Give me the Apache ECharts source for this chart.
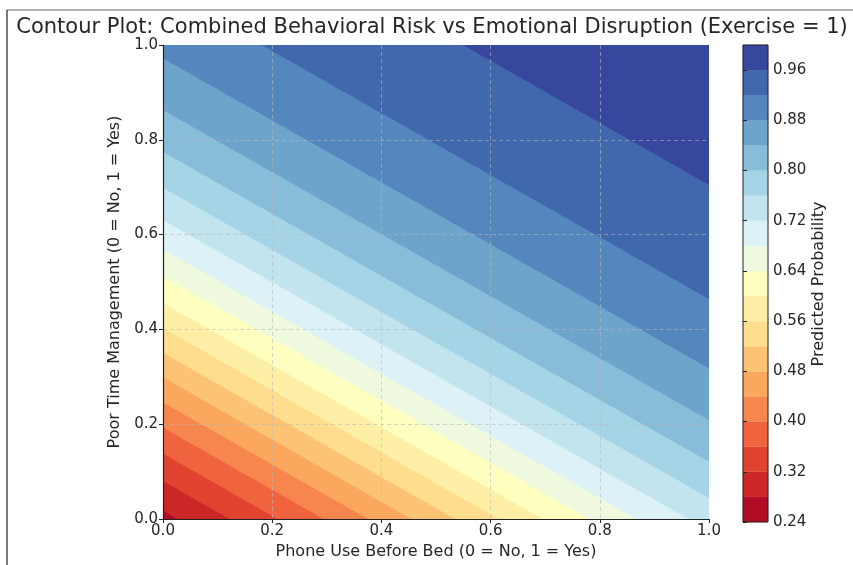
<!DOCTYPE html>
<html>
<head>
<meta charset="utf-8">
<script src="https://cdn.jsdelivr.net/npm/echarts@6/dist/echarts.min.js"></script>
<style>
  html, body { margin: 0; padding: 0; background: #ffffff; }
  #chart { width: 853px; height: 565px; }
</style>
</head>
<body>
<div id="chart"></div>
<script>
// ---------------- data ----------------
const titleText = 'Contour Plot: Combined Behavioral Risk vs Emotional Disruption (Exercise = 1)';
const xAxisTitle = 'Phone Use Before Bed (0 = No, 1 = Yes)';
const yAxisTitle = 'Poor Time Management (0 = No, 1 = Yes)';
const colorbarTitle = 'Predicted Probability';

// contour levels (band edges of the filled contour)
const contourLevels = [0.24, 0.28, 0.32, 0.36, 0.40, 0.44, 0.48, 0.52, 0.56, 0.60,
                       0.64, 0.68, 0.72, 0.76, 0.80, 0.84, 0.88, 0.92, 0.96, 1.00];
// each interior level boundary (0.28 ... 0.96) is a line across the square:
// start point (on the left or top edge) and end point (on the bottom or right edge)
const boundaryStartX = [0, 0, 0, 0, 0, 0, 0, 0, 0, 0, 0, 0, 0, 0, 0, 0, 0.181, 0.550];
const boundaryStartY = [0.018, 0.080, 0.138, 0.193, 0.246, 0.299, 0.351, 0.403, 0.456,
                        0.512, 0.569, 0.631, 0.699, 0.775, 0.863, 0.972, 1, 1];
const boundaryEndX   = [0.027, 0.122, 0.210, 0.294, 0.376, 0.455, 0.535, 0.615, 0.696,
                        0.780, 0.868, 0.963, 1, 1, 1, 1, 1, 1];
const boundaryEndY   = [0, 0, 0, 0, 0, 0, 0, 0, 0, 0, 0, 0, 0.045, 0.121, 0.209, 0.318, 0.464, 0.705];

// axis ticks
const xTicks = [0.0, 0.2, 0.4, 0.6, 0.8, 1.0];
const yTicks = [0.0, 0.2, 0.4, 0.6, 0.8, 1.0];
const colorbarTicks = [0.24, 0.32, 0.40, 0.48, 0.56, 0.64, 0.72, 0.80, 0.88, 0.96];

// ---------------- colours (RdYlBu colormap) ----------------
const rdylbu = ['#a50026', '#d73027', '#f46d43', '#fdae61', '#fee090', '#ffffbf',
                '#e0f3f8', '#abd9e9', '#74add1', '#4575b4', '#313695'];
function hexToRgb(h) { return [parseInt(h.slice(1, 3), 16), parseInt(h.slice(3, 5), 16), parseInt(h.slice(5, 7), 16)]; }
function cmap(t) {
  t = Math.max(0, Math.min(1, t));
  const s = t * (rdylbu.length - 1);
  let i = Math.floor(s); if (i >= rdylbu.length - 1) i = rdylbu.length - 2;
  const f = s - i;
  const a = hexToRgb(rdylbu[i]), b = hexToRgb(rdylbu[i + 1]);
  const c = a.map((v, j) => Math.round(v + (b[j] - v) * f));
  return 'rgb(' + c.join(',') + ')';
}
const lvMin = contourLevels[0], lvMax = contourLevels[contourLevels.length - 1];
const bandColors = [];
for (let k = 0; k < contourLevels.length - 1; k++) {
  const mid = (contourLevels[k] + contourLevels[k + 1]) / 2;
  bandColors.push(cmap((mid - lvMin) / (lvMax - lvMin)));
}

// ---------------- build series data ----------------
const xMin = xTicks[0], xMax = xTicks[xTicks.length - 1];
const yMin = yTicks[0], yMax = yTicks[yTicks.length - 1];
// layer 0: whole domain (lowest band); layers k>0: region above boundary k
const contourData = [[xMin, yMin, xMax, yMin, 0]];
for (let i = 0; i < boundaryStartX.length; i++) {
  contourData.push([boundaryStartX[i], boundaryStartY[i], boundaryEndX[i], boundaryEndY[i], i + 1]);
}
const colorbarData = [];
for (let k = 0; k < contourLevels.length - 1; k++) {
  colorbarData.push([contourLevels[k], contourLevels[k + 1], k]);
}

// ---------------- layout ----------------
const FONT = 'DejaVu Sans';
const TXT = '#262626';
const plot = { left: 163, top: 45, width: 546, height: 477 };
const cbar = { left: 743, top: 45, width: 25, height: 477 };

const chart = echarts.init(document.getElementById('chart'), null, { renderer: 'canvas' });

const option = {
  animation: false,
  backgroundColor: '#ffffff',
  grid: [
    { left: plot.left, top: plot.top, width: plot.width, height: plot.height, containLabel: false },
    { left: cbar.left, top: cbar.top, width: cbar.width, height: cbar.height, containLabel: false }
  ],
  xAxis: [
    {
      gridIndex: 0, type: 'value', min: xMin, max: xMax, interval: 0.2, z: 5,
      name: xAxisTitle, nameLocation: 'middle', nameGap: 25,
      nameTextStyle: { fontFamily: FONT, fontSize: 16, color: TXT },
      axisLine: { show: true, onZero: false, lineStyle: { color: '#222', width: 1.2 } },
      axisTick: { show: true, length: 4, lineStyle: { color: '#222' } },
      axisLabel: { fontFamily: FONT, fontSize: 15, color: TXT, margin: 5,
                   formatter: v => Number(v).toFixed(1) },
      splitLine: { show: true, showMinLine: false, showMaxLine: false,
                   lineStyle: { color: 'rgba(185,185,185,0.75)', width: 0.8, type: [4, 3] } }
    },
    {
      gridIndex: 1, type: 'value', min: 0, max: 1, show: false
    }
  ],
  yAxis: [
    {
      gridIndex: 0, type: 'value', min: yMin, max: yMax, interval: 0.2, z: 5,
      name: yAxisTitle, nameLocation: 'middle', nameGap: 34, nameRotate: 90,
      nameTextStyle: { fontFamily: FONT, fontSize: 16, color: TXT },
      axisLine: { show: true, onZero: false, lineStyle: { color: '#222', width: 1.2 } },
      axisTick: { show: true, length: 4, lineStyle: { color: '#222' } },
      axisLabel: { fontFamily: FONT, fontSize: 15, color: TXT, margin: 5,
                   formatter: v => Number(v).toFixed(1) },
      splitLine: { show: true, showMinLine: false, showMaxLine: false,
                   lineStyle: { color: 'rgba(185,185,185,0.75)', width: 0.8, type: [4, 3] } }
    },
    {
      gridIndex: 1, type: 'value', min: lvMin, max: lvMax, position: 'right', z: 5,
      axisLine: { show: false },
      axisTick: { show: true, length: 4, inside: false, customValues: colorbarTicks,
                  lineStyle: { color: '#222' } },
      axisLabel: { show: true, fontFamily: FONT, fontSize: 15, color: TXT, margin: 5,
                   customValues: colorbarTicks, formatter: v => Number(v).toFixed(2) },
      splitLine: { show: false }
    }
  ],
  graphic: [
    { type: 'text', z: 100, x: 432, y: 28,
      style: { text: titleText, fontFamily: FONT, fontSize: 21, fill: TXT,
               align: 'center', verticalAlign: 'middle' } },
    { type: 'text', z: 100, x: 819, y: 284, rotation: Math.PI / 2,
      style: { text: colorbarTitle, fontFamily: FONT, fontSize: 16, fill: TXT,
               align: 'center', verticalAlign: 'middle' } },
    { type: 'rect', z: 100, silent: true,
      shape: { x: cbar.left, y: cbar.top, width: cbar.width, height: cbar.height },
      style: { fill: null, stroke: '#222', lineWidth: 1 } },
    { type: 'line', z: 100, silent: true, shape: { x1: 7, y1: 10, x2: 853, y2: 10 },
      style: { stroke: '#999', lineWidth: 1.5 } },
    { type: 'line', z: 100, silent: true, shape: { x1: 7, y1: 10, x2: 7, y2: 565 },
      style: { stroke: '#222', lineWidth: 1.2 } }
  ],
  series: [
    {
      type: 'custom', name: 'contour', xAxisIndex: 0, yAxisIndex: 0, z: 2,
      dimensions: ['sx', 'sy', 'ex', 'ey', 'band'],
      encode: { x: [0, 2], y: [1, 3] },
      data: contourData,
      clip: true,
      renderItem: function (params, api) {
        const sx = api.value(0), sy = api.value(1), ex = api.value(2), ey = api.value(3), k = api.value(4);
        const pts = [[sx, sy]];
        if (sx === xMin && sy < yMax) pts.push([xMin, yMax]);
        pts.push([xMax, yMax]);
        if (ey === yMin && ex < xMax) pts.push([xMax, yMin]);
        pts.push([ex, ey]);
        return {
          type: 'polygon',
          shape: { points: pts.map(p => api.coord(p)) },
          style: { fill: bandColors[k], stroke: bandColors[k], lineWidth: 0.3 }
        };
      }
    },
    {
      type: 'custom', name: 'colorbar', xAxisIndex: 1, yAxisIndex: 1, z: 2,
      dimensions: ['lo', 'hi', 'band'],
      encode: { y: [0, 1] },
      data: colorbarData,
      renderItem: function (params, api) {
        const lo = api.value(0), hi = api.value(1), k = api.value(2);
        const p0 = api.coord([0, lo]);
        const p1 = api.coord([1, hi]);
        return {
          type: 'rect',
          shape: { x: p0[0], y: p1[1], width: p1[0] - p0[0], height: p0[1] - p1[1] },
          style: { fill: bandColors[k], stroke: bandColors[k], lineWidth: 0.3 }
        };
      }
    }
  ]
};
chart.setOption(option);
</script>
</body>
</html>
